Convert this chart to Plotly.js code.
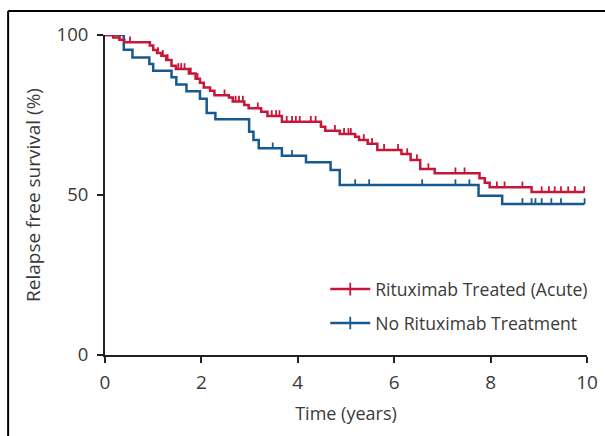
<!DOCTYPE html>
<html>
<head>
<meta charset="utf-8">
<script src="https://cdn.plot.ly/plotly-3.0.1.min.js"></script>
<style>
html,body{margin:0;padding:0;background:#fff;}
#chart{width:605px;height:436px;}
</style>
</head>
<body>
<div id="chart"></div>
<script>
// Rituximab Treated (Acute): event times (years) and survival after each drop (%)
const redTimes = [0.17,0.30,0.40,0.93,1.00,1.08,1.17,1.27,1.38,1.47,1.74,1.88,1.97,2.05,2.18,2.27,2.57,2.65,2.89,2.98,3.24,3.37,3.67,4.48,4.57,4.87,5.19,5.27,5.45,5.65,6.15,6.34,6.54,6.84,7.77,7.88,7.98,8.85];
const redSurv  = [99.2,98.5,97.7,96.7,95.3,94.4,93.5,92.2,90.4,89.4,88.0,86.3,85.1,83.6,82.6,81.2,80.5,79.2,78.1,77.1,76.0,74.7,72.9,71.3,70.1,69.1,68.2,67.2,66.0,64.1,62.8,60.9,58.1,56.8,55.2,53.8,52.4,50.9];
const redCensor = [0.30,0.52,1.10,1.20,1.30,1.52,1.58,1.65,1.78,1.92,2.48,2.71,2.78,2.86,3.17,3.46,3.55,3.62,3.77,3.88,3.96,4.04,4.27,4.37,4.77,4.96,5.05,5.10,5.37,5.54,5.79,6.08,6.27,6.47,6.71,7.27,7.46,8.13,8.29,8.66,9.06,9.21,9.33,9.46,9.61,9.75,9.94];
const redEnd = 9.95;

// No Rituximab Treatment
const blueTimes = [0.39,0.57,0.92,1.00,1.38,1.48,1.69,1.97,2.11,2.29,2.99,3.08,3.19,3.67,4.17,4.68,4.87,7.75,8.24];
const blueSurv  = [95.4,93.0,90.9,88.8,86.8,84.5,82.4,80.1,75.6,73.7,69.8,67.2,64.6,62.3,60.2,57.8,53.1,49.8,47.2];
const blueCensor = [3.48,3.88,5.19,5.48,6.58,7.27,7.56,8.66,8.85,8.93,9.06,9.26,9.46,9.95];
const blueEnd = 9.95;

const xTicks = [0,2,4,6,8,10];
const yTicks = [0,50,100];

const RED = '#C8163A';
const BLUE = '#185A8F';

function stepXY(times, surv, end){
  const x=[0], y=[100];
  times.forEach((t,i)=>{x.push(t); y.push(surv[i]);});
  x.push(end); y.push(surv[surv.length-1]);
  return {x,y};
}
function survAt(times, surv, t){
  let s=100;
  for(let i=0;i<times.length;i++){ if(times[i]<=t) s=surv[i]; }
  return s;
}
function censorXY(times, surv, cens){
  const x=[], y=[];
  cens.forEach(c=>{ const s=survAt(times,surv,c); x.push(c,c,null); y.push(s,s+1.8,null); });
  return {x,y};
}

const r = stepXY(redTimes, redSurv, redEnd);
const b = stepXY(blueTimes, blueSurv, blueEnd);
const rc = censorXY(redTimes, redSurv, redCensor);
const bc = censorXY(blueTimes, blueSurv, blueCensor);

const traces = [
  {x:b.x, y:b.y, mode:'lines', line:{shape:'hv', color:BLUE, width:2.5}, showlegend:false, cliponaxis:false, hoverinfo:'skip'},
  {x:bc.x, y:bc.y, mode:'lines', line:{color:BLUE, width:1.8}, showlegend:false, cliponaxis:false, hoverinfo:'skip'},
  {x:r.x, y:r.y, mode:'lines', line:{shape:'hv', color:RED, width:2.5}, showlegend:false, cliponaxis:false, hoverinfo:'skip'},
  {x:rc.x, y:rc.y, mode:'lines', line:{color:RED, width:1.8}, showlegend:false, cliponaxis:false, hoverinfo:'skip'},
  {x:[null], y:[null], name:'Rituximab Treated (Acute)', legendgroup:'a', mode:'lines+markers', line:{color:RED, width:2.5},
   marker:{symbol:'line-ns', size:9, line:{color:RED, width:1.8}}},
  {x:[null], y:[null], name:'No Rituximab Treatment', legendgroup:'b', mode:'lines+markers', line:{color:BLUE, width:2.5},
   marker:{symbol:'line-ns', size:9, line:{color:BLUE, width:1.8}}}
];

const FAM = '"Open Sans", "Noto Sans", sans-serif';
const TXT = '#3a3a3a';

const layout = {
  width:605, height:436,
  margin:{l:105, r:17, t:35, b:81},
  paper_bgcolor:'#fff', plot_bgcolor:'#fff',
  showlegend:true,
  legend:{x:0.456, y:0.262, xanchor:'left', yanchor:'top', bgcolor:'rgba(0,0,0,0)', traceorder:'grouped',
          font:{family:FAM, size:17.6, color:TXT}, tracegroupgap:8, itemwidth:40},
  xaxis:{range:[0,10], tickvals:xTicks, ticktext:xTicks.map(String), showgrid:false, zeroline:false,
         showline:true, linecolor:'#222', linewidth:2, ticks:'outside', ticklen:6, tickwidth:2, tickcolor:'#222',
         ticklabelstandoff:3,
         tickfont:{family:FAM, size:19, color:TXT},
         title:{text:'Time (years)', font:{family:FAM, size:18, color:TXT}, standoff:14}},
  yaxis:{range:[0,100], tickvals:yTicks, ticktext:yTicks.map(String), showgrid:false, zeroline:false,
         showline:true, linecolor:'#222', linewidth:2, ticks:'outside', ticklen:6, tickwidth:2, tickcolor:'#222',
         ticklabelstandoff:5,
         tickfont:{family:FAM, size:18.5, color:TXT},
         title:{text:'Relapse free survival (%)', font:{family:FAM, size:19, color:TXT}, standoff:11}},
  shapes:[
    {type:'line', xref:'paper', yref:'paper', x0:-0.201, x1:1.1, y0:1.075, y1:1.075, line:{color:'#000', width:2}},
    {type:'line', xref:'paper', yref:'paper', x0:-0.201, x1:-0.201, y0:1.075, y1:-0.3, line:{color:'#000', width:2}}
  ]
};

Plotly.newPlot('chart', traces, layout, {displayModeBar:false, staticPlot:true});
</script>
</body>
</html>
